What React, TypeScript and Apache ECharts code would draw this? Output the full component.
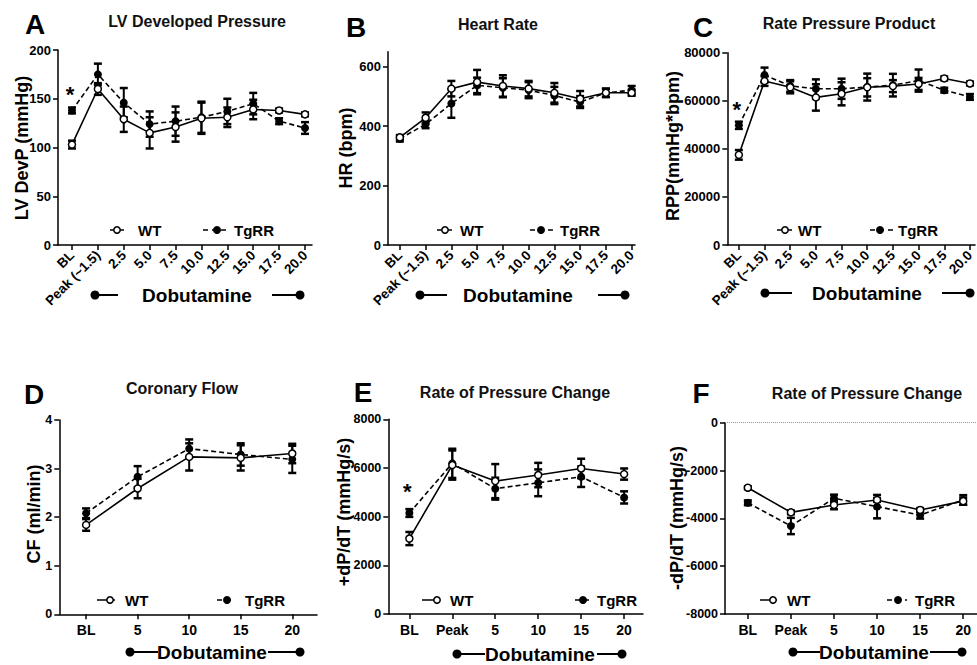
import React, { useEffect, useRef } from 'react';
import * as echarts from 'echarts';

const FONT = '"Liberation Sans", Arial, Helvetica, sans-serif';

// ---- categories ----
const catsTop = ['BL', 'Peak (~1.5)', '2.5', '5.0', '7.5', '10.0', '12.5', '15.0', '17.5', '20.0'];
const catsCF = ['BL', '5', '10', '15', '20'];
const catsDP = ['BL', 'Peak', '5', '10', '15', '20'];

// ---- A: LV developed pressure (mmHg) ----
const lvdpWT = [103, 160, 129, 115, 121, 130, 131, 139, 138, 134];
const lvdpWTErr = [4, 6, 13, 16, 15, 16, 10, 10, 2, 2];
const lvdpTg = [138, 175, 146, 124, 127, 131, 137, 145, 127, 120];
const lvdpTgErr = [3, 11, 15, 13, 15, 16, 13, 11, 3, 6];
const lvdpTicks = [0, 50, 100, 150, 200];

// ---- B: heart rate (bpm) ----
const hrWT = [362, 428, 526, 548, 535, 526, 512, 492, 512, 512];
const hrWTErr = [8, 18, 26, 41, 36, 26, 33, 26, 14, 10];
const hrTg = [358, 406, 476, 537, 529, 521, 503, 481, 512, 521];
const hrTgErr = [10, 13, 48, 26, 32, 27, 29, 20, 14, 14];
const hrTicks = [0, 200, 400, 600];

// ---- C: rate pressure product ----
const rppWT = [37500, 68200, 65600, 61400, 62900, 65600, 66100, 67000, 69300, 67200];
const rppWTErr = [2000, 2000, 2500, 5500, 4800, 3800, 2500, 2500, 800, 800];
const rppTg = [49800, 70700, 66200, 65000, 65000, 65700, 66500, 68400, 64400, 61600];
const rppTgErr = [1500, 3100, 2400, 3900, 4200, 5600, 4700, 4600, 1000, 1200];
const rppTicks = [0, 20000, 40000, 60000, 80000];

// ---- D: coronary flow (ml/min) ----
const cfWT = [1.84, 2.59, 3.24, 3.22, 3.31];
const cfWTErr = [0.12, 0.2, 0.28, 0.26, 0.2];
const cfTg = [2.08, 2.83, 3.41, 3.29, 3.19];
const cfTgErr = [0.1, 0.22, 0.19, 0.23, 0.28];
const cfTicks = [0, 1, 2, 3, 4];

// ---- E: +dP/dT (mmHg/s) ----
const dpWT = [3100, 6120, 5460, 5710, 5980, 5750];
const dpWTErr = [270, 600, 700, 500, 400, 230];
const dpTg = [4150, 6190, 5150, 5390, 5640, 4790];
const dpTgErr = [160, 600, 450, 550, 420, 250];
const dpTicks = [0, 2000, 4000, 6000, 8000];

// ---- F: -dP/dT (mmHg/s) ----
const dnWT = [-2720, -3750, -3440, -3230, -3650, -3280];
const dnWTErr = [60, 80, 180, 80, 80, 150];
const dnTg = [-3350, -4320, -3160, -3510, -3860, -3230];
const dnTgErr = [100, 340, 150, 490, 150, 200];
const dnTicks = [-8000, -6000, -4000, -2000, 0];

type Panel = {
  cats: string[];
  wt: number[]; wtErr: number[]; tg: number[]; tgErr: number[];
  yMin: number; yMax: number; yTicks: number[];
  xMin: number; xMax: number;
  grid: { left: number; top: number; width: number; height: number };
  rotate: boolean;
  star?: number;
  zeroLine?: boolean;
};

const panels: Panel[] = [
  { cats: catsTop, wt: lvdpWT, wtErr: lvdpWTErr, tg: lvdpTg, tgErr: lvdpTgErr, yMin: 0, yMax: 200, yTicks: lvdpTicks,
    xMin: -0.54, xMax: 9.27, grid: { left: 58, top: 50, width: 254, height: 195 }, rotate: true, star: -16 },
  { cats: catsTop, wt: hrWT, wtErr: hrWTErr, tg: hrTg, tgErr: hrTgErr, yMin: 0, yMax: 650, yTicks: hrTicks,
    xMin: -0.46, xMax: 9.13, grid: { left: 388, top: 51.8, width: 247, height: 193.2 }, rotate: true },
  { cats: catsTop, wt: rppWT, wtErr: rppWTErr, tg: rppTg, tgErr: rppTgErr, yMin: 0, yMax: 80000, yTicks: rppTicks,
    xMin: -0.45, xMax: 9.2, grid: { left: 727.3, top: 52.7, width: 249.7, height: 192.3 }, rotate: true, star: -16 },
  { cats: catsCF, wt: cfWT, wtErr: cfWTErr, tg: cfTg, tgErr: cfTgErr, yMin: 0, yMax: 4, yTicks: cfTicks,
    xMin: -0.52, xMax: 4.48, grid: { left: 59.3, top: 420, width: 257.7, height: 194.3 }, rotate: false },
  { cats: catsDP, wt: dpWT, wtErr: dpWTErr, tg: dpTg, tgErr: dpTgErr, yMin: 0, yMax: 8000, yTicks: dpTicks,
    xMin: -0.49, xMax: 5.44, grid: { left: 388.3, top: 419.3, width: 254.7, height: 194.7 }, rotate: false, star: -21 },
  { cats: catsDP, wt: dnWT, wtErr: dnWTErr, tg: dnTg, tgErr: dnTgErr, yMin: -8000, yMax: 0, yTicks: dnTicks,
    xMin: -0.53, xMax: 5.32, grid: { left: 725, top: 422.7, width: 252, height: 191.3 }, rotate: false, zeroLine: true },
];

const titles = [
  { t: 'LV Developed Pressure', x: 197, y: 21 },
  { t: 'Heart Rate', x: 498, y: 24 },
  { t: 'Rate Pressure Product', x: 849, y: 23 },
  { t: 'Coronary Flow', x: 182, y: 388 },
  { t: 'Rate of Pressure Change', x: 515, y: 392 },
  { t: 'Rate of Pressure Change', x: 867, y: 393 },
];
const letters = [
  { t: 'A', x: 35, y: 24 }, { t: 'B', x: 356, y: 27 }, { t: 'C', x: 703, y: 27 },
  { t: 'D', x: 34, y: 394 }, { t: 'E', x: 363, y: 392 }, { t: 'F', x: 701, y: 393 },
];
const yNames = [
  { t: 'LV DevP (mmHg)', x: 22, y: 148 },
  { t: 'HR (bpm)', x: 346, y: 148 },
  { t: 'RPP(mmHg*bpm)', x: 673, y: 146 },
  { t: 'CF (ml/min)', x: 34, y: 514 },
  { t: '+dP/dT (mmHg/s)', x: 344, y: 512 },
  { t: '-dP/dT (mmHg/s)', x: 677, y: 518 },
];
const legends = [
  { wt: [110, 124, 117, 138], tg: [203, 230, 217, 234], y: 230 },
  { wt: [437, 452, 445, 460], tg: [530, 553, 541, 560], y: 230 },
  { wt: [777, 792, 785, 798], tg: [870, 893, 880, 898], y: 230 },
  { wt: [97, 115, 110, 125], tg: [217, 233, 227, 245], y: 600 },
  { wt: [422, 440, 437, 450], tg: [575, 592, 583, 597], y: 600 },
  { wt: [760, 777, 773, 787], tg: [887, 907, 898, 915], y: 600 },
];
const dobu = [
  { x: 197, y: 295, l: [95, 118], r: [272, 300] },
  { x: 518, y: 295, l: [420, 447], r: [598, 625] },
  { x: 867, y: 293, l: [765, 792], r: [942, 970] },
  { x: 212, y: 652, l: [130, 158], r: [268, 300] },
  { x: 540, y: 654, l: [457, 485], r: [597, 622] },
  { x: 874, y: 652, l: [793, 820], r: [930, 962] },
];

function buildGraphics() {
  const g: any[] = [];
  titles.forEach((d) => g.push({ type: 'text', x: d.x, y: d.y, style: { text: d.t, font: `bold 16px ${FONT}`, fill: '#111', align: 'center', verticalAlign: 'middle' } }));
  letters.forEach((d) => g.push({ type: 'text', x: d.x, y: d.y, style: { text: d.t, font: `bold 28px ${FONT}`, fill: '#000', align: 'center', verticalAlign: 'middle' } }));
  yNames.forEach((d) => g.push({ type: 'text', x: d.x, y: d.y, rotation: Math.PI / 2, style: { text: d.t, font: `bold 18px ${FONT}`, fill: '#000', align: 'center', verticalAlign: 'middle' } }));
  legends.forEach((d) => {
    g.push({ type: 'line', shape: { x1: d.wt[0], y1: d.y, x2: d.wt[1], y2: d.y }, style: { stroke: '#000', lineWidth: 1.5 } });
    g.push({ type: 'circle', shape: { cx: d.wt[2], cy: d.y, r: 3.2 }, style: { fill: '#fff', stroke: '#000', lineWidth: 1.5 } });
    g.push({ type: 'text', x: d.wt[3], y: d.y, style: { text: 'WT', font: `bold 15px ${FONT}`, fill: '#000', align: 'left', verticalAlign: 'middle' } });
    g.push({ type: 'line', shape: { x1: d.tg[0], y1: d.y, x2: d.tg[1], y2: d.y }, style: { stroke: '#000', lineWidth: 1.5, lineDash: [5, 4] } });
    g.push({ type: 'circle', shape: { cx: d.tg[2], cy: d.y, r: 4 }, style: { fill: '#000' } });
    g.push({ type: 'text', x: d.tg[3], y: d.y, style: { text: 'TgRR', font: `bold 15px ${FONT}`, fill: '#000', align: 'left', verticalAlign: 'middle' } });
  });
  dobu.forEach((d) => {
    g.push({ type: 'text', x: d.x, y: d.y, style: { text: 'Dobutamine', font: `bold 19px ${FONT}`, fill: '#000', align: 'center', verticalAlign: 'middle' } });
    g.push({ type: 'line', shape: { x1: d.l[0], y1: d.y, x2: d.l[1], y2: d.y }, style: { stroke: '#000', lineWidth: 2 } });
    g.push({ type: 'circle', shape: { cx: d.l[0], cy: d.y, r: 4.5 }, style: { fill: '#000' } });
    g.push({ type: 'line', shape: { x1: d.r[0], y1: d.y, x2: d.r[1], y2: d.y }, style: { stroke: '#000', lineWidth: 2 } });
    g.push({ type: 'circle', shape: { cx: d.r[1], cy: d.y, r: 4.5 }, style: { fill: '#000' } });
  });
  return g;
}

function errRenderItem(params: any, api: any) {
  const x = api.value(0);
  const lo = api.coord([x, api.value(1)]);
  const hi = api.coord([x, api.value(2)]);
  const w = 4;
  return {
    type: 'group',
    children: [
      { type: 'line', shape: { x1: lo[0], y1: lo[1], x2: hi[0], y2: hi[1] }, style: { stroke: '#000', lineWidth: 2 } },
      { type: 'line', shape: { x1: lo[0] - w, y1: lo[1], x2: lo[0] + w, y2: lo[1] }, style: { stroke: '#000', lineWidth: 2.5 } },
      { type: 'line', shape: { x1: hi[0] - w, y1: hi[1], x2: hi[0] + w, y2: hi[1] }, style: { stroke: '#000', lineWidth: 2.5 } },
    ],
  };
}

function buildOption() {
  const grid: any[] = [];
  const xAxis: any[] = [];
  const yAxis: any[] = [];
  const series: any[] = [];
  panels.forEach((p, i) => {
    grid.push({ ...p.grid, containLabel: false });
    const idx = p.cats.map((_, k) => k);
    xAxis.push({
      type: 'value', gridIndex: i, min: p.xMin, max: p.xMax,
      axisLine: { show: true, onZero: false, lineStyle: { color: '#000', width: 1.5 } },
      axisTick: { show: true, length: 5, customValues: idx, lineStyle: { color: '#000', width: 1.5 } },
      axisLabel: {
        customValues: idx, formatter: (v: number) => p.cats[Math.round(v)] ?? '',
        rotate: p.rotate ? 45 : 0, margin: p.rotate ? 8 : 9,
        fontFamily: FONT, fontWeight: 'bold', fontSize: p.rotate ? 13.5 : 14, color: '#000',
      },
      splitLine: { show: false },
    });
    yAxis.push({
      type: 'value', gridIndex: i, min: p.yMin, max: p.yMax,
      axisLine: { show: true, onZero: false, lineStyle: { color: '#000', width: 1.5 } },
      axisTick: { show: true, length: 5, customValues: p.yTicks, lineStyle: { color: '#000', width: 1.5 } },
      axisLabel: {
        customValues: p.yTicks, formatter: (v: number) => String(v), margin: 7,
        fontFamily: FONT, fontWeight: 'bold', fontSize: p.rotate ? 13 : 12.5, color: '#000',
      },
      splitLine: { show: false },
    });
    const wtErrData = p.wt.map((v, k) => [k, v - p.wtErr[k], v + p.wtErr[k]]);
    const tgErrData = p.tg.map((v, k) => [k, v - p.tgErr[k], v + p.tgErr[k]]);
    series.push({
      type: 'custom', xAxisIndex: i, yAxisIndex: i, z: 1, renderItem: errRenderItem,
      encode: { x: 0, y: [1, 2] }, data: wtErrData, silent: true,
    });
    series.push({
      type: 'custom', xAxisIndex: i, yAxisIndex: i, z: 1, renderItem: errRenderItem,
      encode: { x: 0, y: [1, 2] }, data: tgErrData, silent: true,
    });
    const tgSeries: any = {
      type: 'line', name: 'TgRR', xAxisIndex: i, yAxisIndex: i, z: 3,
      data: p.tg.map((v, k) => [k, v]),
      symbol: 'circle', symbolSize: 8, showSymbol: true,
      lineStyle: { color: '#000', width: 1.6, type: [5, 3] },
      itemStyle: { color: '#000', borderColor: '#000', borderWidth: 0 },
    };
    if (p.star !== undefined) {
      tgSeries.markPoint = {
        symbol: 'circle', symbolSize: 1, itemStyle: { color: 'rgba(0,0,0,0)' },
        data: [{ coord: [0, p.tg[0]] }],
        label: { show: true, formatter: '*', position: 'inside', offset: [-2, p.star], fontFamily: FONT, fontSize: 22, fontWeight: 'bold', color: '#000' },
      };
    }
    const wtSeries: any = {
      type: 'line', name: 'WT', xAxisIndex: i, yAxisIndex: i, z: 4,
      data: p.wt.map((v, k) => [k, v]),
      symbol: 'circle', symbolSize: 7, showSymbol: true,
      lineStyle: { color: '#000', width: 1.6 },
      itemStyle: { color: '#fff', borderColor: '#000', borderWidth: 1.5 },
    };
    if (p.zeroLine) {
      wtSeries.markLine = {
        symbol: 'none', silent: true, label: { show: false },
        lineStyle: { color: '#999', type: 'dotted', width: 1 },
        data: [{ yAxis: 0 }],
      };
    }
    series.push(tgSeries);
    series.push(wtSeries);
  });
  return {
    animation: false,
    backgroundColor: '#fff',
    textStyle: { fontFamily: FONT },
    grid, xAxis, yAxis, series,
    graphic: buildGraphics(),
  };
}

export default function App() {
  const ref = useRef<HTMLDivElement>(null);
  useEffect(() => {
    if (!ref.current) return;
    const chart = echarts.init(ref.current, undefined, { renderer: 'svg' });
    chart.setOption(buildOption() as any);
    return () => chart.dispose();
  }, []);
  return (
    <div
      ref={ref}
      style={{ position: 'fixed', left: 0, top: 0, width: 977, height: 665, background: '#fff' }}
    />
  );
}
